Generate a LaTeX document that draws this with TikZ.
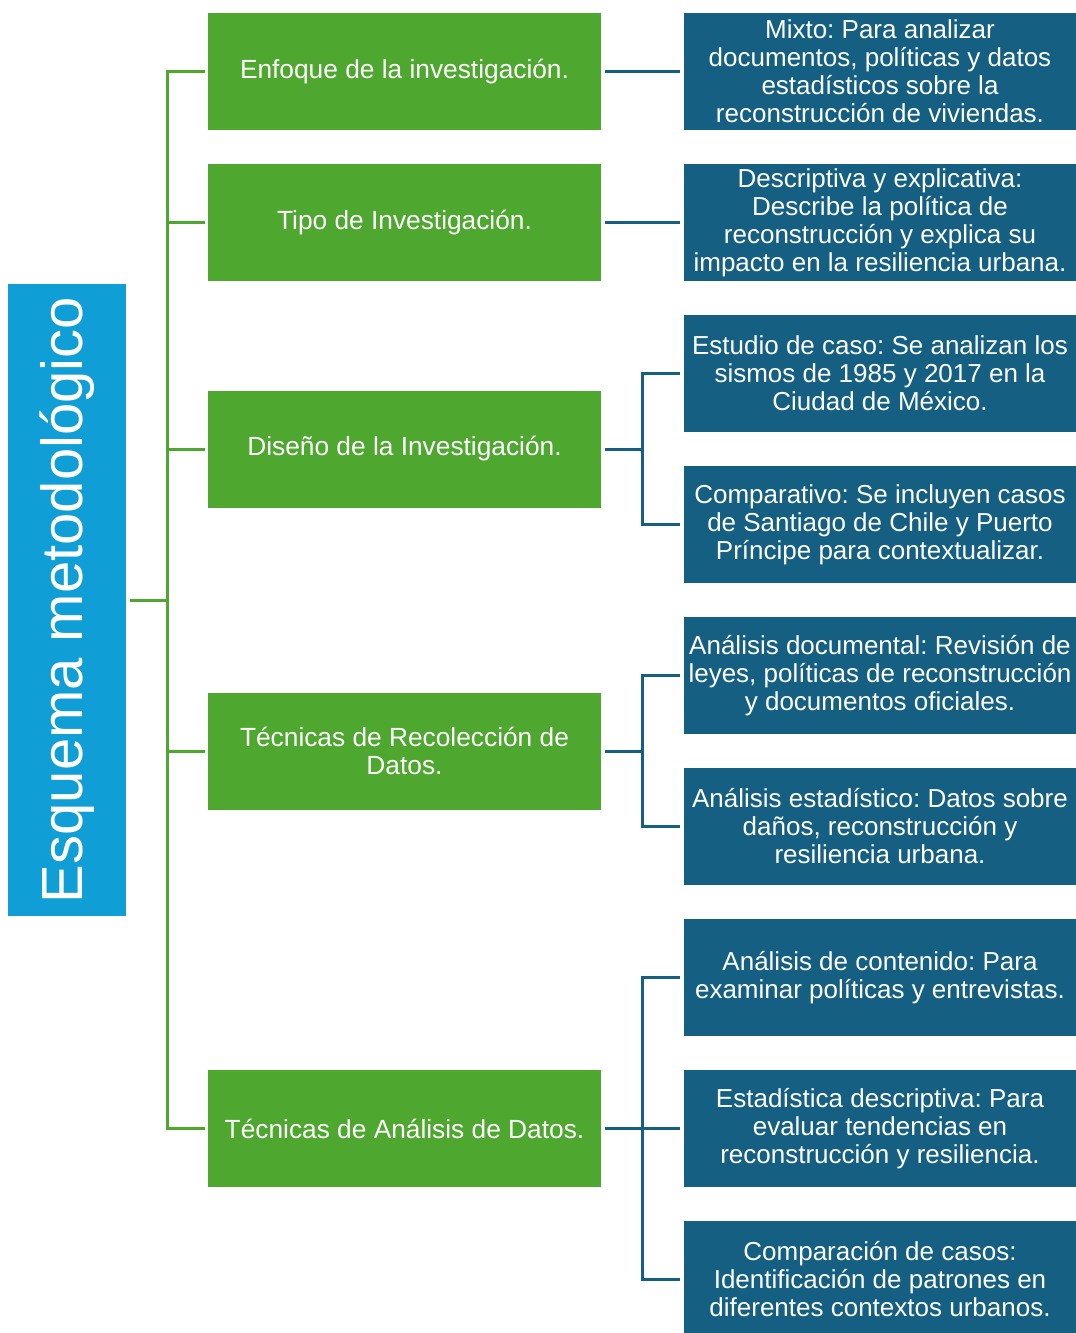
\documentclass[tikz,border=0pt]{standalone}
\usepackage{fontspec}
\setmainfont{Liberation Sans}
\frenchspacing
\definecolor{metgreen}{HTML}{4EA72E}
\definecolor{metblue}{HTML}{156082}
\definecolor{metcyan}{HTML}{0F9ED5}
\begin{document}
\begin{tikzpicture}[x=1pt,y=-1pt,
  topic/.style={fill=metgreen, text=white, minimum width=393pt, minimum height=117pt,
    inner sep=0pt, align=center, font=\fontsize{26.3}{28}\selectfont},
  detail/.style={fill=metblue, text=white, minimum width=392pt, minimum height=117pt,
    inner sep=0pt, align=center, font=\fontsize{26}{28}\selectfont},
  gline/.style={draw=metgreen, line width=3pt, shorten <=4pt, shorten >=3pt},
  bline/.style={draw=metblue, line width=3pt, shorten <=4pt, shorten >=4pt}]
  \useasboundingbox (0,0) rectangle (1076,1333);
  \clip (0,0) rectangle (1076,1333);

  % title
  \node[fill=metcyan, text=white, minimum width=118pt, minimum height=632pt, inner sep=0pt]
    (title) at (67,600) {\rotatebox{90}{\fontsize{58}{60}\selectfont Esquema metodológico}};
  \coordinate (trunk) at (167,600);

  % topics
  \node[topic] (enfoque) at (404.5,71.5) {Enfoque de la investigación.};
  \node[topic] (tipo) at (404.5,222.5) {Tipo de Investigación.};
  \node[topic] (diseno) at (404.5,449) {Diseño de la Investigación.};
  \node[topic] (recoleccion) at (404.5,751) {Técnicas de Recolección de\\Datos.};
  \node[topic] (analisis) at (404.5,1128.5) {Técnicas de Análisis de Datos.};

  % details
  \node[detail] (mixto) at (880,71.5) {Mixto: Para analizar\\documentos, políticas y datos\\estadísticos sobre la\\reconstrucción de viviendas.};
  \node[detail] (descriptiva) at (880,222.5) {Descriptiva y explicativa:\\Describe la política de\\reconstrucción y explica su\\impacto en la resiliencia urbana.};
  \node[detail] (caso) at (880,373.5) {Estudio de caso: Se analizan los\\sismos de 1985 y 2017 en la\\Ciudad de México.};
  \node[detail] (comparativo) at (880,524.5) {Comparativo: Se incluyen casos\\de Santiago de Chile y Puerto\\Príncipe para contextualizar.};
  \node[detail] (documental) at (880,675.5) {Análisis documental: Revisión de\\leyes, políticas de reconstrucción\\y documentos oficiales.};
  \node[detail] (estadistico) at (880,826.5) {Análisis estadístico: Datos sobre\\daños, reconstrucción y\\resiliencia urbana.};
  \node[detail] (contenido) at (880,977.5) {Análisis de contenido: Para\\examinar políticas y entrevistas.};
  \node[detail] (estadistica) at (880,1128.5) {Estadística descriptiva: Para\\evaluar tendencias en\\reconstrucción y resiliencia.};
  \node[detail] (comparacion) at (880,1279.5) {Comparación de casos:\\Identificación de patrones en\\diferentes contextos urbanos.};

  % green tree
  \foreach \t in {enfoque,tipo,diseno,recoleccion,analisis}
    \draw[gline] (title.east) -- (trunk) |- (\t.west);

  % blue links
  \draw[bline] (enfoque.east) -- (mixto.west);
  \draw[bline] (tipo.east) -- (descriptiva.west);
  \foreach \d in {caso,comparativo}
    \draw[bline] (diseno.east) -- ++(41,0) |- (\d.west);
  \foreach \d in {documental,estadistico}
    \draw[bline] (recoleccion.east) -- ++(41,0) |- (\d.west);
  \foreach \d in {contenido,estadistica,comparacion}
    \draw[bline] (analisis.east) -- ++(41,0) |- (\d.west);
\end{tikzpicture}
\end{document}
